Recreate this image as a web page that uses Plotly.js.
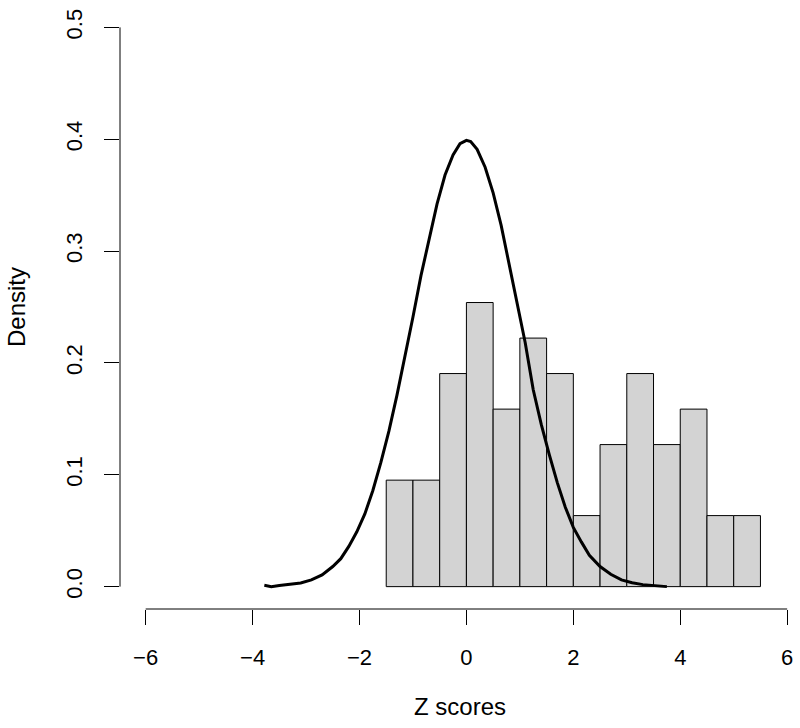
<!DOCTYPE html>
<html>
<head>
<meta charset="utf-8">
<script src="https://cdn.plot.ly/plotly-3.0.1.min.js"></script>
<style>html,body{margin:0;padding:0;background:#fff;}#chart{width:800px;height:728px;}</style>
</head>
<body>
<div id="chart"></div>
<script>
// Histogram: bin edges and densities
const binEdges = [-1.5, -1.0, -0.5, 0.0, 0.5, 1.0, 1.5, 2.0, 2.5, 3.0, 3.5, 4.0, 4.5, 5.0, 5.5];
const densities = [0.0952, 0.0952, 0.1905, 0.2540, 0.1587, 0.2222, 0.1905, 0.0635, 0.1270, 0.1905, 0.1270, 0.1587, 0.0635, 0.0635];

// Density curve
const curveX = [-3.78, -3.65, -3.5, -3.3, -3.1, -2.9, -2.7, -2.5, -2.35, -2.2, -2.05, -1.9, -1.75, -1.6, -1.45, -1.3, -1.15, -1.0, -0.85, -0.7, -0.55, -0.4, -0.25, -0.12, 0.0, 0.08, 0.2, 0.35, 0.5, 0.65, 0.8, 0.95, 1.1, 1.25, 1.4, 1.55, 1.7, 1.85, 2.0, 2.15, 2.3, 2.5, 2.7, 2.9, 3.1, 3.3, 3.5, 3.75];
const curveY = [0.0012, 0.0, 0.001, 0.0018, 0.0032, 0.006, 0.0105, 0.018, 0.025, 0.036, 0.049, 0.065, 0.086, 0.111, 0.139, 0.171, 0.205, 0.241, 0.278, 0.311, 0.342, 0.368, 0.386, 0.396, 0.399, 0.398, 0.391, 0.375, 0.352, 0.323, 0.289, 0.254, 0.218, 0.176, 0.145, 0.118, 0.093, 0.071, 0.053, 0.040, 0.028, 0.018, 0.011, 0.006, 0.0035, 0.0018, 0.0009, 0.0];

const xTicks = [-6, -4, -2, 0, 2, 4, 6];
const xTickText = ["\u22126", "\u22124", "\u22122", "0", "2", "4", "6"];
const yTicks = [0.0, 0.1, 0.2, 0.3, 0.4, 0.5];
const yTickText = ["0.0", "0.1", "0.2", "0.3", "0.4", "0.5"];

const mids = [], widths = [];
for (let i = 0; i < densities.length; i++) {
  mids.push((binEdges[i] + binEdges[i + 1]) / 2);
  widths.push(binEdges[i + 1] - binEdges[i]);
}

const traces = [
  {
    type: 'bar', x: mids, y: densities, width: widths,
    marker: {color: '#d3d3d3', line: {color: '#000', width: 1}},
    hoverinfo: 'skip'
  },
  {
    type: 'scatter', mode: 'lines', x: curveX, y: curveY,
    line: {color: '#000', width: 3},
    hoverinfo: 'skip'
  }
];

const family = 'Liberation Sans, Arial, Helvetica, sans-serif';
const tickFnt = {family: family, size: 22, color: '#000'};
const titleFnt = {family: family, size: 24, color: '#000'};

const layout = {
  width: 800, height: 728,
  margin: {l: 120, r: 0, t: 5, b: 119},
  paper_bgcolor: '#fff', plot_bgcolor: '#fff',
  showlegend: false,
  font: titleFnt,
  xaxis: {
    range: [-6.48, 6.24], tickmode: 'array', tickvals: xTicks, ticktext: xTickText,
    ticks: 'outside', ticklen: 15, tickwidth: 1, tickcolor: '#000',
    showline: false, showgrid: false, zeroline: false,
    tickfont: tickFnt, ticklabelstandoff: 14,
    title: {text: 'Z scores', font: titleFnt, standoff: 28}
  },
  yaxis: {
    range: [-0.02, 0.52], tickmode: 'array', tickvals: yTicks, ticktext: yTickText,
    ticks: 'outside', ticklen: 15, tickwidth: 1, tickcolor: '#000', tickangle: -90,
    showline: false, showgrid: false, zeroline: false,
    tickfont: tickFnt, ticklabelstandoff: 13,
    title: {text: 'Density', font: titleFnt, standoff: 29}
  },
  shapes: [
    {type: 'line', xref: 'x', yref: 'paper', x0: xTicks[0], x1: xTicks[xTicks.length - 1], y0: 0, y1: 0,
     line: {color: '#000', width: 1}},
    {type: 'line', xref: 'paper', yref: 'y', x0: 0, x1: 0, y0: yTicks[0], y1: yTicks[yTicks.length - 1],
     line: {color: '#000', width: 1}}
  ],
  bargap: 0
};

Plotly.newPlot('chart', traces, layout, {staticPlot: true, displayModeBar: false});
</script>
</body>
</html>
